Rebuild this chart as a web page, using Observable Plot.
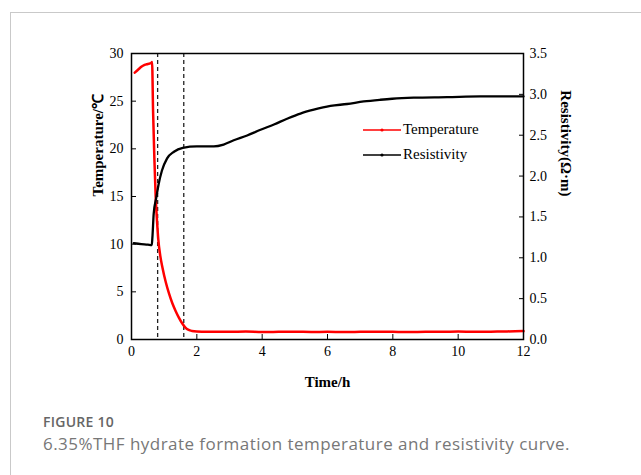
<!DOCTYPE html>
<html>
<head>
<meta charset="utf-8">
<script src="https://cdn.jsdelivr.net/npm/d3@7"></script>
<script src="https://cdn.jsdelivr.net/npm/@observablehq/plot@0.6"></script>
<style>
  html, body { margin: 0; padding: 0; background: #fff; }
  #wrap { position: relative; width: 641px; height: 475px; overflow: hidden; background: #fff; }
  #topline { position: absolute; left: 10px; top: 12px; width: 631px; height: 0; border-top: 1px solid #c9c9c9; }
  #leftline { position: absolute; left: 10px; top: 12px; width: 0; height: 463px; border-left: 1px solid #c9c9c9; }
  #chart { position: absolute; left: 0; top: 0; }
  #legend { position: absolute; left: 363px; top: 117px; font: 15px "Liberation Serif", serif; color: #000; }
  .lg-row { display: flex; align-items: center; height: 25px; }
  .lg-row svg { display: block; margin-right: 2px; }
  .cap1 { position: absolute; left: 43px; top: 414px; font: 600 14px "Open Sans", sans-serif; color: #666; line-height: 15px; white-space: nowrap; }
  .cap2 { position: absolute; left: 43px; top: 435px; font: 400 17px "Open Sans", sans-serif; color: #777; line-height: 18px; white-space: nowrap; }
</style>
</head>
<body>
<div id="wrap">
  <div id="topline"></div>
  <div id="leftline"></div>
  <div id="chart"></div>
  <div id="legend"></div>
  <div class="cap1" id="cap1"></div>
  <div class="cap2" id="cap2"></div>
</div>
<script>
// ---- data ----
const tempTime = [0.1, 0.2, 0.3, 0.4, 0.5, 0.6, 0.63, 0.66, 0.70, 0.74, 0.78, 0.82, 0.88, 0.95, 1.05, 1.15, 1.25, 1.35, 1.45, 1.55, 1.65, 1.75, 1.85, 2.0, 2.5, 3, 3.5, 4, 4.5, 5, 5.5, 6, 6.5, 7, 7.5, 8, 8.5, 9, 9.5, 10, 10.5, 11, 11.5, 12];
const tempVal  = [28.0, 28.3, 28.6, 28.8, 28.9, 29.0, 29.1, 24.0, 19.0, 15.0, 12.5, 10.5, 8.8, 7.5, 6.0, 4.8, 3.8, 3.0, 2.3, 1.7, 1.25, 1.0, 0.9, 0.85, 0.82, 0.8, 0.83, 0.78, 0.8, 0.82, 0.79, 0.8, 0.78, 0.8, 0.82, 0.8, 0.78, 0.81, 0.8, 0.83, 0.8, 0.82, 0.85, 0.88];

const resTime = [0.07, 0.3, 0.5, 0.62, 0.64, 0.68, 0.76, 0.83, 0.93, 1.09, 1.30, 1.57, 2.0, 2.52, 2.82, 3.13, 3.54, 3.95, 4.36, 4.76, 5.17, 5.58, 6.09, 6.6, 7.11, 7.62, 7.98, 8.64, 9.66, 10.68, 12];
const resVal  = [1.178, 1.167, 1.161, 1.155, 1.25, 1.54, 1.74, 1.90, 2.065, 2.217, 2.298, 2.345, 2.363, 2.363, 2.386, 2.438, 2.497, 2.567, 2.631, 2.701, 2.765, 2.812, 2.858, 2.882, 2.913, 2.934, 2.946, 2.959, 2.966, 2.975, 2.975];

const dashTimes = [0.8, 1.6];

const xTicks = [0, 2, 4, 6, 8, 10, 12];
const tempTicks = [0, 5, 10, 15, 20, 25, 30];
const resTicks = [0, 0.5, 1.0, 1.5, 2.0, 2.5, 3.0, 3.5];

const xTitle = "Time/h";
const yTitle = "Temperature/℃";
const rTitle = "Resistivity(Ω·m)";
const legendLabels = ["Temperature", "Resistivity"];
const legendColors = ["#ff0000", "#000000"];
const caption1 = "FIGURE 10";
const caption2 = "6.35%THF hydrate formation temperature and resistivity curve.";
const caption1Width = 71;   // px, as in the reference
const caption2Width = 527;

// ---- build ----
const tempMax = 30, resMax = 3.5;
const yR = r => r * tempMax / resMax;
const tempData = tempTime.map((t, i) => ({t, v: tempVal[i]}));
const resData = resTime.map((t, i) => ({t, v: resVal[i]}));

const chart = Plot.plot({
  width: 641,
  height: 400,
  marginLeft: 131,
  marginRight: 118,
  marginTop: 53,
  marginBottom: 61,
  style: {fontFamily: '"Liberation Serif", "Times New Roman", serif', fontSize: "14px", color: "#000", background: "transparent", overflow: "visible"},
  x: {domain: [0, 12]},
  y: {domain: [0, tempMax]},
  marks: [
    Plot.ruleX(dashTimes, {stroke: "#222", strokeDasharray: "4,3", strokeWidth: 1.3}),
    Plot.line(tempData, {x: "t", y: "v", stroke: legendColors[0], strokeWidth: 2.5, curve: "monotone-x"}),
    Plot.line(resData, {x: "t", y: d => yR(d.v), stroke: legendColors[1], strokeWidth: 2.3, curve: "monotone-x"}),
    Plot.frame({stroke: "#000", strokeWidth: 1.5}),
    Plot.axisX(xTicks, {anchor: "bottom", tickSize: -5, tickPadding: 12, label: null, tickFormat: d => String(d)}),
    Plot.axisY(tempTicks, {anchor: "left", tickSize: -5, tickPadding: 13, label: null, tickFormat: d => String(d)}),
    Plot.axisY(resTicks.map(yR), {anchor: "right", tickSize: -5, tickPadding: 11, label: null, tickFormat: d => (d * resMax / tempMax).toFixed(1)}),
    Plot.text([xTitle], {frameAnchor: "bottom", dy: 47, fontWeight: "bold", fontSize: 15}),
    Plot.text([yTitle], {frameAnchor: "left", dx: -33, rotate: -90, fontWeight: "bold", fontSize: 15}),
    Plot.text([rTitle], {frameAnchor: "right", dx: 42, rotate: 90, fontWeight: "bold", fontSize: 15})
  ]
});
document.getElementById("chart").appendChild(chart);

// legend
const legend = document.getElementById("legend");
legendLabels.forEach((lab, i) => {
  const row = document.createElement("div");
  row.className = "lg-row";
  row.innerHTML = `<svg width="38" height="6"><line x1="0" y1="3" x2="38" y2="3" stroke="${legendColors[i]}" stroke-width="1.6"/><circle cx="19" cy="3" r="1.6" fill="${legendColors[i]}"/></svg><span>${lab}</span>`;
  legend.appendChild(row);
});

// captions, letter-spaced to the reference widths
function fit(id, text, target) {
  const el = document.getElementById(id);
  el.textContent = text;
  const w = el.getBoundingClientRect().width;
  const ls = (target - w) / text.length;
  el.style.letterSpacing = Math.max(-1, Math.min(2, ls)) + "px";
}
fit("cap1", caption1, caption1Width);
fit("cap2", caption2, caption2Width);
</script>
</body>
</html>
